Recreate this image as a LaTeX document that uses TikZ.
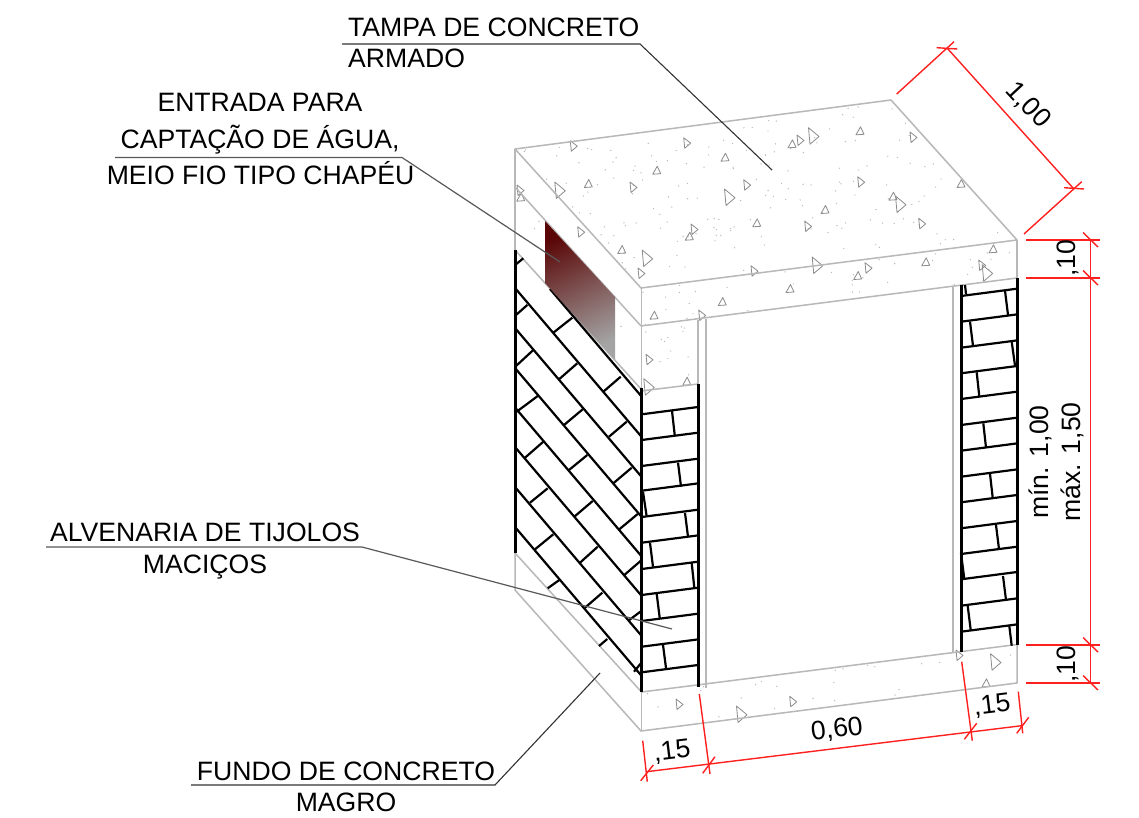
\documentclass[tikz,border=0pt]{standalone}
\usepackage{fontspec}
\setmainfont{Liberation Sans}
\definecolor{edgegray}{HTML}{B8B8B8}
\definecolor{dimred}{HTML}{FF2020}
\definecolor{gradtop}{HTML}{5A0606}
\definecolor{gradbot}{HTML}{A4A4A4}
\tikzset{
  edge/.style={draw=edgegray,line width=1.5pt},
  jamb/.style={draw=edgegray,line width=2.2pt},
  wall/.style={draw=black,line width=3pt},
  brick/.style={draw=black,line width=2.2pt},
  dimline/.style={draw=dimred,line width=1.4pt},
  leader/.style={draw=black!80,line width=1.1pt},
  leaderB/.style={draw=black!65,line width=1.2pt},
  tri/.style={draw=black!45,line width=.8pt,line join=round},
  txt/.style={font=\fontsize{26.6}{30}\selectfont,inner sep=0pt,anchor=base},
  txtl/.style={txt,anchor=base west},
}
\newcommand{\concdots}[7]{%
  \foreach \i in {1,...,#7}{%
    \pgfmathsetmacro\uu{rnd}\pgfmathsetmacro\vv{rnd}%
    \pgfmathsetmacro\px{#1+\uu*(#3)+\vv*(#5)}%
    \pgfmathsetmacro\py{#2+\uu*(#4)+\vv*(#6)}%
    \fill[black!28] (\px,\py) circle (.7);
  }}
\begin{document}
\begin{tikzpicture}[x=1pt,y=-1pt]
\useasboundingbox (0,0) rectangle (1139,818);
\fill[white] (0,0) rectangle (1139,818);
\pgfmathsetseed{11}
\concdots{518}{150}{372}{-48}{123}{136}{170}
\concdots{643}{290}{372}{-48}{0}{35}{36}
\concdots{518}{190}{120}{133}{0}{30}{8}
\concdots{644}{330}{52}{-6}{0}{50}{12}
\concdots{644}{694}{372}{-48}{0}{34}{22}
% triangles pointing right
\foreach \x/\y in {686.7/142.7,800/140,913/137,633/187,746.7/184.7,860.7/181.7,921.7/223.3,807.7/226,694/229,641/273,754/270.7,868/267.7,981.7/265,701.7/315,573.3/145.7,520/190,580.7/231.7,649/359.3,679/704,792.7/701.3,959/655}
  \draw[tri,shift={(\x,\y)}] (-3,-5) -- (4,.5) -- (-2,5.5) -- cycle;
\foreach \x/\y in {813/135.7,729/197,900/204,646.7/258,816.7/265,986.7/272.7,559.3/190,648.3/386.7,741/714,995/661.7}
  \draw[tri,shift={(\x,\y)}] (-4.5,-8) -- (6,.8) -- (-3,8.5) -- cycle;
% triangles pointing up
\foreach \x/\y in {725/157.7,792/144.3,860/131.3,656.7/170.7,893/196.7,961/184,825/210,756.7/223.3,689.3/236.7,857.7/276,925.7/262.3,993/249.3,790/289,722.3/302,654/315.7,520.7/197.7,588.3/184,621.7/250,686.7/381.7,986/683.3}
  \draw[tri,shift={(\x,\y)}] (.5,-4.5) -- (4,3) -- (-4,3.5) -- cycle;
% concrete and outline edges
\draw[edge,line join=round] (515,149) -- (891,100) -- (1017,240) -- (641,288) -- cycle;
\draw[edge] (515,149) -- (515,250);
\draw[edge] (515,187) -- (641,326);
\draw[edge] (641.5,288) -- (641.5,389);
\draw[edge] (641,326) -- (1017,278);
\draw[edge] (1017,240) -- (1017,278);
\draw[edge] (515,250) -- (641,389);
\draw[edge] (641,391) -- (698,384);
\draw[edge] (698,320) -- (698,384);
\draw[jamb] (706,319) -- (706,688);
\draw[jamb] (953,287) -- (953,653);
\draw[edge,line join=round] (515,553) -- (515,590) -- (641,731) -- (1017,683) -- (1017,645);
\draw[edge] (515,553) -- (641.5,692);
\draw[edge] (641.5,692) -- (1017,644.5);
\draw[edge] (641.5,692) -- (641.5,731);
% front bricks
\foreach \y in {414.3,440,466,490.7,517,542.7,569,595,621,646.7,672.3}
  \draw[brick] (641.7,\y) -- (698,\y-7.3);
\foreach \a/\b/\c/\d in {672/411/674.7/435,678/462.7/681/486.7,643/491.7/646.7/516.7,685/513/688/536.7,650/543/653/566.7,691.7/563/694.3/587.7,656.7/594/659.7/618,663/645/666/668}
  \draw[brick] (\a,\b) -- (\c,\d);
\foreach \y in {296,321.7,347.7,373.3,399,425,450.7,476.7,502.3,528.3,554,579.3,605.7,631.7}
  \draw[brick] (961,\y) -- (1017,\y-7.3);
\foreach \a/\b/\c/\d in {965/285/966/294,1005/290.7/1008/315,970/321.7/973/346,1011.7/341.7/1015/365.7,976.7/372.3/979.3/396.7,983.3/423.3/986/447.7,990/474/992.7/497.7,996/525/999/549.3,961/553.3/964.3/579,1003/576/1006/600,967.7/606/970.7/630,1009.3/626/1011.7/645.7}
  \draw[brick] (\a,\b) -- (\c,\d);
% side bricks
\draw[brick] (550,289) -- (641.7,396.7);
\foreach \y in {288,328,368,407.5,447,487,527}
  \draw[brick] (515,\y) -- (641.7,\y+149);
\foreach \a/\b/\c/\d in {516/264.3/523.3/258.3,516/315/527.3/305,553.3/332.7/572.3/317.7,516/366/533.3/350,559/379.3/577.3/363.3,603.3/391.7/620.7/376.7,516.7/411.7/537.7/396,564/425/582.7/409.3,609/436.7/626.7/421.7,525/457.7/543.3/441.7,569/470/587.3/455,613.3/483.3/631.7/467.7,530/502.7/547.7/488.3,574.3/516.7/592.7/501,619.3/529.3/637.7/514,535/549.3/553.3/534.3,580/562.7/597.7/546.7,624.3/575/641.7/560,547.7/588.3/559.3/580,585/607.7/602.3/592.7,629.3/620/641.7/610.7,599/646/607.3/639,634/671.7/641.7/662.3}
  \draw[brick] (\a,\b) -- (\c,\d);
\draw[wall] (515,250) -- (515,553);
\draw[wall] (641.7,388) -- (641.7,692);
\draw[wall] (698,384) -- (698,686.5);
\draw[wall] (961,285) -- (961,652);
\draw[wall] (1017,278) -- (1017,645);
% opening
\shade[top color=gradtop,bottom color=gradbot,shading angle=25] (545,221) -- (615,297) -- (615,360) -- (545,283) -- cycle;
% dimensions
\coordinate (t1) at (947.3,48.3); \coordinate (t2) at (1073.3,188.3);
\draw[dimline] (t1) -- (t2);
\draw[dimline] (896.7,94) -- (954,41.7);
\draw[dimline] (1024,234) -- (1081.7,181.7);
\draw[dimline] (936.7,47.7) -- (957.3,49);
\draw[dimline] (1064,187.7) -- (1084,189);
\draw[dimline] (1090.7,240) -- (1090.7,683);
\foreach \y in {240,278,645,683} {
  \draw[dimline] (1026,\y) -- (1100,\y);
  \draw[dimline] (1083,\y-7.5) -- (1098,\y+7);
}
\coordinate (b1) at (646.7,771.7); \coordinate (b2) at (1021.7,725.7);
\draw[dimline] (b1) -- (b2);
\draw[dimline] (642.7,740.7) -- (647.3,781.7);
\draw[dimline] (699.3,694) -- (710,774);
\draw[dimline] (961.7,661.7) -- (972.3,740.7);
\draw[dimline] (1018.3,691.7) -- (1022.7,733.3);
\draw[dimline] (640.7,780.7) -- (653.3,765);
\draw[dimline] (702.7,773.3) -- (715,756.7);
\draw[dimline] (964.3,739.3) -- (976.7,723.3);
\draw[dimline] (1016.7,733.3) -- (1028.7,717.3);
% texts
\node[txtl] (tampa) at (348,37) {TAMPA DE CONCRETO};
\node[txtl] (armado) at (348,68) {ARMADO};
\node[txt] (entrada) at (260,111.7) {ENTRADA PARA};
\node[txt] (captacao) at (260,149) {CAPTAÇÃO DE ÁGUA,};
\node[txt] (meio) at (260.5,184.3) {MEIO FIO TIPO CHAPÉU};
\node[txt] (alven) at (205,541) {ALVENARIA DE TIJOLOS};
\node[txt] (macicos) at (205,573) {MACIÇOS};
\node[txt] (fundo) at (346,780) {FUNDO DE CONCRETO};
\node[txt] (magro) at (346,811) {MAGRO};
\node[txt,anchor=center,rotate=-47] (d100) at (1028,105) {1,00};
\node[txt,anchor=center,rotate=7] (d15a) at (672,752) {,15};
\node[txt,anchor=center,rotate=7] (d60) at (837,730) {0,60};
\node[txt,anchor=center,rotate=7] (d15b) at (992,706) {,15};
\node[txt,anchor=center,rotate=90] (d10a) at (1068,258) {,10};
\node[txt,anchor=center,rotate=90] (d10b) at (1068,664) {,10};
\node[txt,anchor=center,rotate=90] (dmin) at (1040,462) {mín. 1,00};
\node[txt,anchor=center,rotate=90] (dmax) at (1072,462) {máx. 1,50};
% leaders
\coordinate (l1a) at (342,44); \coordinate (l1b) at (640,44); \coordinate (l1c) at (772,170);
\draw[leader] (l1a) -- (l1b) -- (l1c);
\coordinate (l2a) at (115,157.5); \coordinate (l2b) at (402,157.5); \coordinate (l2c) at (560,262);
\draw[leaderB] (l2a) -- (l2b) -- (l2c);
\coordinate (l3a) at (46,547); \coordinate (l3b) at (362,547); \coordinate (l3c) at (672,629);
\draw[leaderB] (l3a) -- (l3b) -- (l3c);
\coordinate (l4a) at (191,785); \coordinate (l4b) at (495,785); \coordinate (l4c) at (600,673);
\draw[leader] (l4a) -- (l4b) -- (l4c);
\end{tikzpicture}
\end{document}
